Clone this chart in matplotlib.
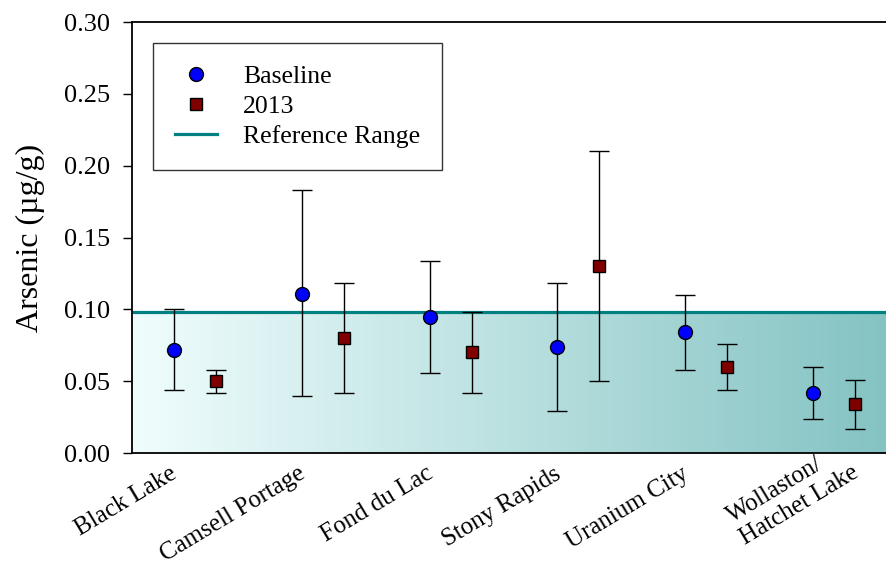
import numpy as np
import matplotlib
matplotlib.use('Agg')
import matplotlib.pyplot as plt
from matplotlib.lines import Line2D
from matplotlib.transforms import ScaledTranslation
from matplotlib.ticker import FormatStrFormatter

plt.rcParams['font.family'] = ['Liberation Serif', 'DejaVu Serif']

sites = ['Black Lake', 'Camsell Portage', 'Fond du Lac', 'Stony Rapids',
         'Uranium City', 'Wollaston/\nHatchet Lake']

baseline = [0.072, 0.111, 0.095, 0.074, 0.084, 0.042]
baseline_lo = [0.044, 0.040, 0.056, 0.029, 0.058, 0.024]
baseline_hi = [0.100, 0.183, 0.134, 0.118, 0.110, 0.060]

y2013 = [0.050, 0.080, 0.070, 0.130, 0.060, 0.034]
y2013_lo = [0.042, 0.042, 0.042, 0.050, 0.044, 0.017]
y2013_hi = [0.058, 0.118, 0.098, 0.210, 0.076, 0.051]

ref_upper = 0.098

x = np.arange(1, len(sites) + 1)
off = 0.165

fig = plt.figure(figsize=(8.86, 5.66), dpi=100)
ax = fig.add_axes([0.149, 0.1996, 0.851, 0.7615])
xlim = (0.507, 6.407)
ax.set_xlim(*xlim)
ax.set_ylim(0, 0.30)

# gradient reference band
grad = np.linspace(0, 1, 256)
c0 = np.array([240, 253, 253]) / 255.
c1 = np.array([133, 195, 195]) / 255.
img = c0[None, :] * (1 - grad[:, None]) + c1[None, :] * grad[:, None]
ax.imshow(img[None, :, :], extent=[xlim[0], xlim[1], 0, ref_upper],
          aspect='auto', zorder=0, interpolation='bilinear')
ax.axhline(ref_upper, color='#008080', lw=2.3, zorder=2)

bl = np.array(baseline)
ax.errorbar(x - off, bl, yerr=[bl - np.array(baseline_lo), np.array(baseline_hi) - bl],
            fmt='none', ecolor='black', elinewidth=1, capsize=7, capthick=1, zorder=3)
ax.plot(x - off, bl, 'o', ms=10, mfc='#0000ff', mec='black', mew=1, zorder=4)

y3 = np.array(y2013)
ax.errorbar(x + off, y3, yerr=[y3 - np.array(y2013_lo), np.array(y2013_hi) - y3],
            fmt='none', ecolor='black', elinewidth=1, capsize=7, capthick=1, zorder=3)
ax.plot(x + off, y3, 's', ms=8.5, mfc='#800000', mec='black', mew=1, zorder=4)

ax.spines['right'].set_visible(False)
for s in ['left', 'bottom', 'top']:
    ax.spines[s].set_linewidth(1.3)

ax.set_yticks(np.arange(0, 0.301, 0.05))
ax.yaxis.set_major_formatter(FormatStrFormatter('%.2f'))
ax.tick_params(axis='y', direction='out', length=6.5, width=1, labelsize=19, pad=9)
ax.set_ylabel('Arsenic (\u00b5g/g)', fontsize=23, labelpad=14)

ax.set_xticks(x)
ax.set_xticklabels(sites, rotation=31, ha='right', va='top', fontsize=18,
                   multialignment='left')
ax.tick_params(axis='x', length=0, pad=7)
labs = ax.get_xticklabels()
for lab in labs[:-1]:
    lab.set_transform(lab.get_transform() +
                      ScaledTranslation(-0.14, 0, fig.dpi_scale_trans))
# two-line label sits further right and higher in the original
labs[-1].set_transform(labs[-1].get_transform() +
                       ScaledTranslation(0.28, 0.23, fig.dpi_scale_trans))

handles = [
    Line2D([], [], ls='none', marker='o', ms=10, mfc='#0000ff', mec='black'),
    Line2D([], [], ls='none', marker='s', ms=8.5, mfc='#800000', mec='black'),
    Line2D([], [], color='#008080', lw=2.3),
]
leg = ax.legend(handles, ['Baseline', '2013', 'Reference Range'],
                loc='upper left', bbox_to_anchor=(0.028, 0.951), fontsize=18.5,
                frameon=True, fancybox=False, edgecolor='black',
                handlelength=1.65, handletextpad=1.0, labelspacing=0.28,
                borderpad=0.85, borderaxespad=0)
leg.get_frame().set_linewidth(1)

fig.savefig('out.png', dpi=100)
